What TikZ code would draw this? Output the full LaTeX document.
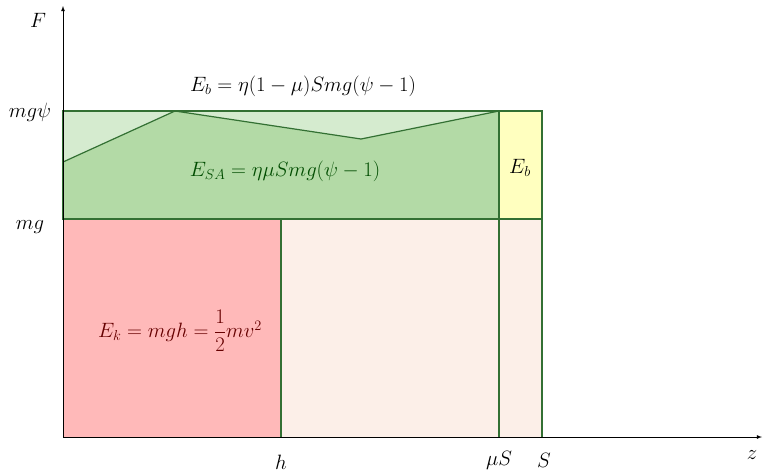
\documentclass[tikz,border=0pt]{standalone}
\usepackage{amsmath}
\begin{document}
\begin{tikzpicture}[x=1pt,y=-1pt,
  edge/.style={draw=green!30!black!80,line width=1.2pt},
  lab/.style={font=\fontsize{22}{26}\selectfont}]
\useasboundingbox (0,0) rectangle (768,475);
\definecolor{lg}{HTML}{D5EBCF}\definecolor{dg}{HTML}{B3DAA6}
\definecolor{yl}{HTML}{FFFFBF}\definecolor{rd}{HTML}{FFB9B9}\definecolor{pc}{HTML}{FCEFE8}
\coordinate (O) at (63,437);
\fill[lg] (63,111) rectangle (499,219);
\fill[dg] (63,162) -- (175,111) -- (361,139) -- (499,111) -- (499,219) -- (63,219) -- cycle;
\fill[yl] (499,111) rectangle (542,219);
\fill[rd] (63,219) rectangle (281,437);
\fill[pc] (281,219) rectangle (542,437);
\draw[edge] (63,162) -- (175,111) -- (361,139) -- (499,111);
\draw[edge] (63,111) rectangle (542,219);
\draw[edge] (499,111) -- (499,437);
\draw[edge] (542,219) -- (542,437);
\draw[edge] (63,219) -- (281,219) -- (281,437);
\draw[edge] (281,219) -- (542,219);
\draw[-latex,thick] (O) -- (63,6) coordinate (ytop);
\draw[-latex,thick] (O) -- (762,437) coordinate (xend);
\node[lab] (F) at (38,20) {$F$};
\node[lab] (z) at (752,455) {$z$};
\node[lab] (mgpsi) at (30,112) {$mg\psi$};
\node[lab] (mg) at (30,227) {$mg$};
\node[lab] (h) at (281,462) {$h$};
\node[lab] (muS) at (499,460) {$\mu S$};
\node[lab] (S) at (544,460) {$S$};
\node[lab] (Eb) at (303,86) {$E_b=\eta(1-\mu)Smg(\psi-1)$};
\node[lab,text=green!30!black] (ESA) at (285,171) {$E_{SA}=\eta\mu Smg(\psi-1)$};
\node[lab] (Eb2) at (520,168) {$E_b$};
\node[lab,text=red!40!black] (Ek) at (180,331) {$E_k=mgh=\dfrac{1}{2}mv^2$};
\end{tikzpicture}
\end{document}
